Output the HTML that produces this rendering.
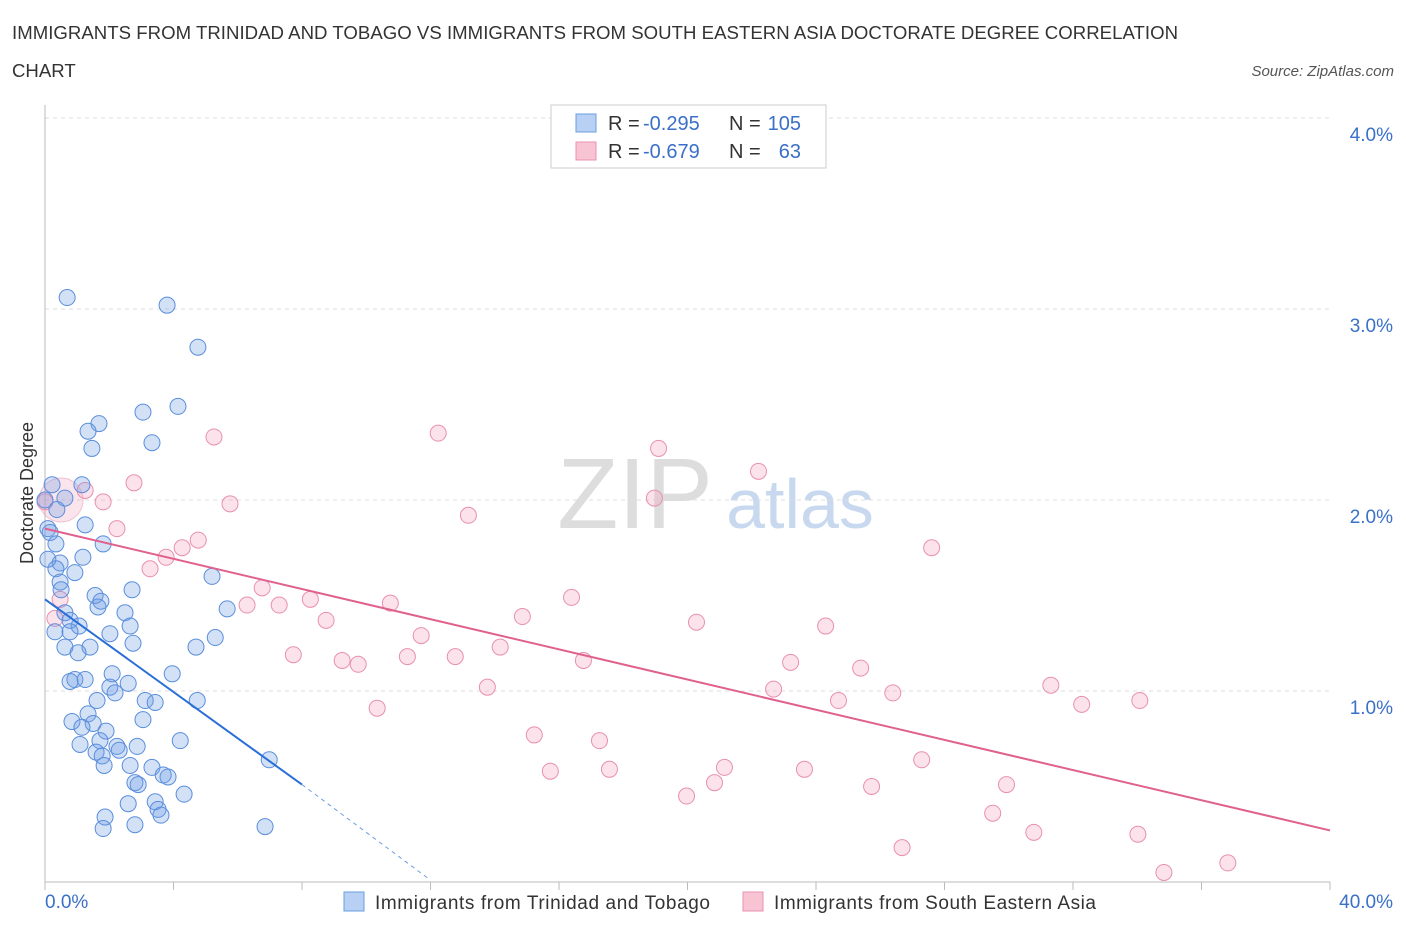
<!DOCTYPE html>
<html><head><meta charset="utf-8"><style>
body{margin:0;background:#fff;font-family:"Liberation Sans",sans-serif;}
svg text{font-family:"Liberation Sans",sans-serif;}
</style></head><body>
<svg id="c" width="1406" height="930">
<text x="12" y="39" font-size="18.6" fill="#333" textLength="1166">IMMIGRANTS FROM TRINIDAD AND TOBAGO VS IMMIGRANTS FROM SOUTH EASTERN ASIA DOCTORATE DEGREE CORRELATION</text>
<text x="12" y="77" font-size="18.6" fill="#333">CHART</text>
<text x="1394" y="76" font-size="15" fill="#555" font-style="italic" text-anchor="end">Source: ZipAtlas.com</text>
<text x="33" y="493" font-size="18" fill="#333" text-anchor="middle" transform="rotate(-90 33 493)">Doctorate Degree</text>
<text x="635" y="528" font-size="100" fill="#ddd" font-family="Liberation Serif" text-anchor="middle">ZIP</text>
<text x="800" y="528" font-size="70" fill="#c8d8ee" text-anchor="middle">atlas</text>
<g id="grid"></g><g id="marks"></g>
<g>
<rect x="551" y="105" width="275" height="63" fill="#fff" stroke="#ccc"/>
<rect x="576" y="114" width="20" height="18" fill="#b8d0f4" stroke="#6a9de0"/>
<rect x="576" y="142" width="20" height="18" fill="#f8c4d4" stroke="#e890b0"/>
<text x="608" y="130" font-size="20" fill="#333">R =</text>
<text x="643" y="130" font-size="20" fill="#3a70c8">-0.295</text>
<text x="729" y="130" font-size="20" fill="#333">N =</text>
<text x="801" y="130" font-size="20" fill="#3a70c8" text-anchor="end">105</text>
<text x="608" y="158" font-size="20" fill="#333">R =</text>
<text x="643" y="158" font-size="20" fill="#3a70c8">-0.679</text>
<text x="729" y="158" font-size="20" fill="#333">N =</text>
<text x="801" y="158" font-size="20" fill="#3a70c8" text-anchor="end">63</text>
</g>
<g>
<rect x="344" y="892" width="20" height="19" fill="#b8d0f4" stroke="#6a9de0"/>
<text x="375" y="909" font-size="19" fill="#333" textLength="335">Immigrants from Trinidad and Tobago</text>
<rect x="743" y="892" width="20" height="19" fill="#f8c4d4" stroke="#e890b0"/>
<text x="774" y="909" font-size="19" fill="#333" textLength="322">Immigrants from South Eastern Asia</text>
</g>
</svg>
<script>
const yTicks=[1,2,3,4];
const xTickLabels=["0.0%","40.0%"];
const blueX=[.69,3.80,4.76,4.14,3.05,1.68,1.34,3.33,1.46,.22,1.15,.62,0,.37,.09,1.25,.16,1.81,1.18,.47,.34,.93,5.20,2.71,.47,1.56,1.74,1.65,2.49,5.67,.62,.78,1.06,2.65,2.02,.31,.78,5.30,2.74,1.40,.62,4.70,1.03,3.96,2.09,.93,.78,2.59,2.02,2.18,1.62,3.12,3.43,4.74,.84,1.34,1.50,1.15,1.90,1.71,4.21,2.87,1.09,2.24,1.59,1.78,2.31,1.84,2.65,3.33,3.68,3.83,2.80,2.90,4.33,2.59,3.43,3.52,3.61,1.87,2.80,1.81,6.98,6.85,.34,.09,.50,1.25,3.05];
const blueY=[3.06,3.02,2.80,2.49,2.46,2.40,2.36,2.30,2.27,2.08,2.08,2.01,2.0,1.95,1.85,1.87,1.83,1.77,1.70,1.67,1.64,1.62,1.60,1.53,1.57,1.50,1.47,1.44,1.41,1.43,1.41,1.37,1.34,1.34,1.30,1.31,1.31,1.28,1.25,1.23,1.23,1.23,1.20,1.09,1.09,1.06,1.05,1.04,1.02,.99,.95,.95,.94,.95,.84,.88,.83,.81,.79,.74,.74,.71,.72,.71,.68,.66,.69,.61,.61,.60,.56,.55,.52,.51,.46,.41,.42,.38,.35,.34,.30,.28,.64,.29,1.77,1.69,1.53,1.06,.85];
const pinkX=[0,1.25,1.81,2.77,5.26,5.76,2.24,12.24,13.18,19.10,22.21,18.97,27.60,4.77,4.27,3.77,3.27,6.76,6.29,7.29,8.26,8.75,10.75,11.71,7.73,9.25,9.75,11.28,12.77,14.17,14.86,16.39,16.76,20.28,24.30,23.21,25.39,22.68,24.70,26.39,31.31,32.27,34.08,13.77,10.34,15.23,17.26,15.73,17.57,21.15,20.84,19.97,23.64,25.73,27.29,29.93,29.50,30.78,34.02,26.68,34.83,36.82,.47,.31];
const pinkY=[1.99,2.05,1.99,2.09,2.33,1.98,1.85,2.35,1.92,2.27,2.15,2.01,1.75,1.79,1.75,1.70,1.64,1.54,1.45,1.45,1.48,1.37,1.46,1.29,1.19,1.16,1.14,1.18,1.18,1.23,1.39,1.49,1.16,1.36,1.34,1.15,1.12,1.01,.95,.99,1.03,.93,.95,1.02,.91,.77,.74,.58,.59,.60,.52,.45,.59,.50,.64,.51,.36,.26,.25,.18,.05,.10,1.48,1.38];
const blueTrendX=[0,8,12];
const blueTrendY=[1.48,0.51,0.01];
const pinkTrendX=[0,40];
const pinkTrendY=[1.85,0.27];
const NS="http://www.w3.org/2000/svg";
const sx=v=>45+v*32.125, sy=v=>882-v*191;
function mk(t,a,p){const e=document.createElementNS(NS,t);for(const k in a)e.setAttribute(k,a[k]);p.appendChild(e);return e;}
const g=document.getElementById('grid'), m=document.getElementById('marks');
yTicks.forEach(t=>{
 const l=mk('line',{x1:45,x2:1330,y1:sy(t),y2:sy(t),stroke:'#ddd','stroke-dasharray':'4,4'},g);
 
 
 const tx=mk('text',{x:1393,y:sy(t)+23,'font-size':19,fill:'#3a70c8','text-anchor':'end'},g);
 tx.textContent=t.toFixed(1)+'%';
 
 
});
const ya=mk('line',{x1:45,x2:45,y1:105,y2:882,stroke:'#bbb'},g);


const xa=mk('line',{x1:45,x2:1330,y1:882,y2:882,stroke:'#bbb'},g);


for(let i=0;i<=10;i++){const tk=mk('line',{x1:sx(i*4),x2:sx(i*4),y1:882,y2:890,stroke:'#bbb'},g);
 
 }
[[0,45,'start'],[40,1393,'end']].forEach((d,i)=>{const tx=mk('text',{x:d[1],y:908,'font-size':19,fill:'#3a70c8','text-anchor':d[2]},g);tx.textContent=xTickLabels[i];
 
 });
const big=mk('circle',{cx:sx(0.5),cy:sy(2.0),r:22,fill:'rgba(240,150,180,0.25)',stroke:'rgba(232,144,176,0.5)'},m);


pinkX.forEach((x,i)=>{const c=mk('circle',{cx:sx(x),cy:sy(pinkY[i]),r:8,fill:'rgba(244,160,190,0.3)',stroke:'#e890b0','stroke-width':1},m);
 
 });
blueX.forEach((x,i)=>{const c=mk('circle',{cx:sx(x),cy:sy(blueY[i]),r:8,fill:'rgba(110,155,230,0.3)',stroke:'#5a8edc','stroke-width':1},m);
 
 });
const bt=mk('line',{x1:sx(blueTrendX[0]),y1:sy(blueTrendY[0]),x2:sx(blueTrendX[1]),y2:sy(blueTrendY[1]),stroke:'#2a6fd8','stroke-width':2},m);


const bd=mk('line',{x1:sx(blueTrendX[1]),y1:sy(blueTrendY[1]),x2:sx(blueTrendX[2]),y2:sy(blueTrendY[2]),stroke:'#6a9de0','stroke-width':1,'stroke-dasharray':'4,4'},m);


const pt=mk('line',{x1:sx(pinkTrendX[0]),y1:sy(pinkTrendY[0]),x2:sx(pinkTrendX[1]),y2:sy(pinkTrendY[1]),stroke:'#e0608e','stroke-width':2},m);


</script>
</body></html>
